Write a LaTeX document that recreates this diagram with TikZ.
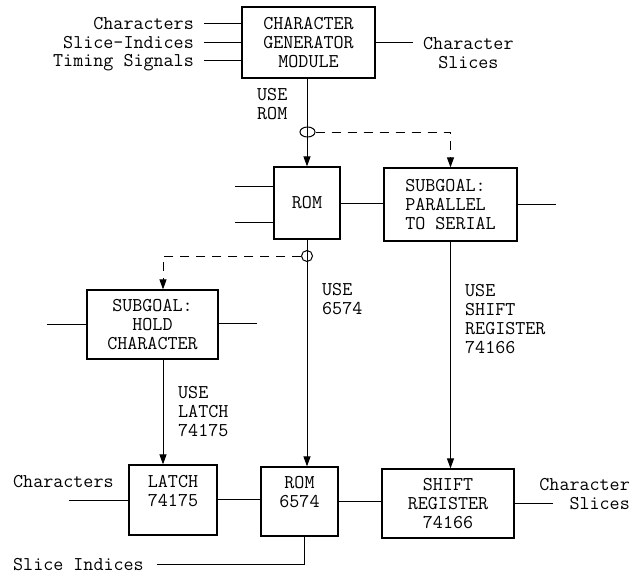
\documentclass[tikz,border=0pt]{standalone}
\usepackage{fontspec}
\usetikzlibrary{arrows.meta,shapes.geometric}

\tikzset{
  blk/.style={draw, line width=1.2pt, inner sep=0pt, align=center},
  sig/.style={inner sep=0pt, text height=12pt, text depth=0pt},
  lbl/.style={inner sep=0pt, align=left},
  wire/.style={line width=1pt},
  goal/.style={line width=1pt, dash pattern=on 9pt off 7pt},
  arr/.style={-{Triangle[length=10pt,width=7pt]}}
}

\begin{document}
\begin{tikzpicture}[x=1pt, y=-1pt, every node/.style={font=\ttfamily\fontsize{19.5}{19}\selectfont}]
  \useasboundingbox (0,0) rectangle (641,574);

  % blocks
  \node[blk, minimum width=133pt, minimum height=71pt] (cg) at (308.5,42.5) {CHARACTER\\GENERATOR\\MODULE};
  \node[blk, minimum width=66pt, minimum height=72pt] (rom) at (307,203) {ROM};
  \node[blk, align=left, minimum width=133pt, minimum height=73pt] (sp) at (450.5,204.5) {SUBGOAL:\\PARALLEL\\TO SERIAL};
  \node[blk, minimum width=131pt, minimum height=69pt] (hc) at (152.5,324.5) {SUBGOAL:\\HOLD\\CHARACTER};
  \node[blk, minimum width=88pt, minimum height=70pt] (latch) at (173,500) {LATCH\\74175\\~};
  \node[blk, minimum width=77pt, minimum height=69pt] (rom2) at (299.5,501.5) {ROM\\6574\\~};
  \node[blk, minimum width=132pt, minimum height=69pt] (sr) at (448,503.5) {SHIFT\\REGISTER\\74166};

  % taps
  \node[draw, ellipse, line width=1pt, minimum width=15pt, minimum height=10pt, inner sep=0pt] (tap1) at (307.5,132) {};
  \node[draw, circle, line width=1pt, minimum size=11pt, inner sep=0pt] (tap2) at (307,256) {};

  % signal names
  \node[sig, anchor=east] (inChar) at (194,23) {Characters};
  \node[sig, anchor=east] (inSlice) at (194,42) {Slice-Indices};
  \node[sig, anchor=east] (inTime) at (194,60) {Timing Signals};
  \node[lbl, align=center, anchor=west] (outTop) at (423,53) {Character\\Slices};
  \node[sig, anchor=west] (latchChar) at (13,481) {Characters};
  \node[sig, anchor=west] (sliceIdx) at (13,564) {Slice Indices};
  \node[lbl, align=right, anchor=east] (outBot) at (630,494) {Character\\Slices};

  % use labels
  \node[lbl, anchor=west] (useRom) at (257,104) {USE\\ROM};
  \node[lbl, anchor=west] (use6574) at (322,299) {USE\\6574};
  \node[lbl, anchor=west] (useLatch) at (178,412) {USE\\LATCH\\74175};
  \node[lbl, anchor=west] (useShift) at (465,319) {USE\\SHIFT\\REGISTER\\74166};

  \coordinate (latchIn) at (69,500);

  % wires
  \draw[wire] ([xshift=10pt]inChar.east) -- (inChar.east -| cg.west);
  \draw[wire] ([xshift=10pt]inSlice.east) -- (inSlice.east -| cg.west);
  \draw[wire] ([xshift=10pt]inTime.east) -- (inTime.east -| cg.west);
  \draw[wire] (cg.east) -- ++(37,0);
  \draw[wire] ([yshift=-19pt]rom.west) -- ++(-38,0);
  \draw[wire] ([yshift=17pt]rom.west) -- ++(-38,0);
  \draw[wire] (rom.east) -- (rom.east -| sp.west);
  \draw[wire] (sp.east) -- ++(38,0);
  \draw[wire] (hc.west) -- ++(-39,0);
  \draw[wire] ([yshift=1.5pt]hc.east) -- ++(38,0);
  \draw[wire] (latchIn) -- (latchIn -| latch.west);
  \draw[wire] ([yshift=1pt]latch.east) -- ([yshift=1pt]latch.east -| rom2.west);
  \draw[wire] ([yshift=0.5pt]rom2.east) -- ([yshift=0.5pt]rom2.east -| sr.west);
  \draw[wire] (sr.east) -- ++(38,0);
  \draw[wire] ([xshift=4.5pt]rom2.south) |- ([xshift=13pt]sliceIdx.east);

  % goal arrows
  \draw[wire, arr] (cg.south -| rom.north) -- (rom.north);
  \draw[wire, arr] (rom.south) -- (rom.south |- rom2.north);
  \draw[wire, arr] ([xshift=10.5pt]hc.south) -- ([xshift=10.5pt]hc.south |- latch.north);
  \draw[wire, arr] (sp.south) -- (sp.south |- sr.north);
  \draw[goal, arr] (tap1.east) -| (sp.north);
  \draw[goal, arr] (tap2.west) -| ([xshift=10.5pt]hc.north);
\end{tikzpicture}
\end{document}
